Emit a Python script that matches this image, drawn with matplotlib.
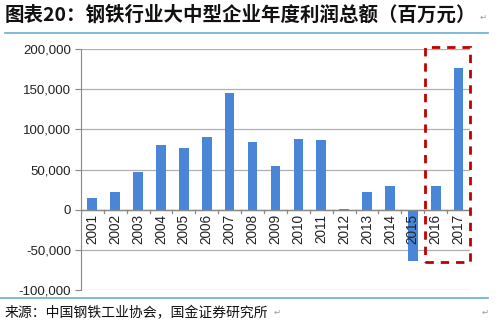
import matplotlib.pyplot as plt
from matplotlib.patches import Rectangle
from matplotlib.lines import Line2D

years = ["2001", "2002", "2003", "2004", "2005", "2006", "2007", "2008", "2009",
         "2010", "2011", "2012", "2013", "2014", "2015", "2016", "2017"]
profit = [15000, 22000, 47000, 80000, 77000, 90000, 145000, 84000, 55000,
          88000, 87000, 1000, 22000, 30000, -64000, 30000, 177000]
yticks = [-100000, -50000, 0, 50000, 100000, 150000, 200000]
title = "图表20：钢铁行业大中型企业年度利润总额（百万元）"
source = "来源：中国钢铁工业协会，国金证券研究所"

plt.rcParams['font.family'] = ['Liberation Sans', 'Noto Sans CJK SC', 'DejaVu Sans']

fig = plt.figure(figsize=(4.99, 3.23), dpi=100)
ax = fig.add_axes([0.162, 0.102, 0.78, 0.746])

x = list(range(len(years)))
ax.bar(x, profit, width=0.42, color="#4a86d8", zorder=3)

ax.set_xlim(-0.5, len(years) - 0.5)
ax.set_ylim(-100000, 200000)
ax.set_yticks(yticks)
ax.set_yticklabels([f"{v:,}" for v in yticks], fontsize=9.5, color="#222222")
ax.grid(axis="y", color="#b0b0b0", linewidth=0.9, zorder=0)

for s in ["top", "right", "bottom"]:
    ax.spines[s].set_visible(False)
ax.spines["left"].set_color("#888888")
ax.tick_params(axis="y", length=4, color="#888888", pad=3)

# x axis at zero with ticks between categories
ax.axhline(0, color="#888888", linewidth=1.0, zorder=4)
ax.set_xticks([])
for i in range(len(years) + 1):
    ax.plot([i - 0.5, i - 0.5], [0, -3500], color="#888888", linewidth=0.9, zorder=4)
for i, yr in enumerate(years):
    ax.text(i, -5000, yr, rotation=90, ha="center", va="top", fontsize=9.8,
            color="#222222", zorder=5)

# dashed highlight box
ax.add_patch(Rectangle((14.55, -64500), 1.95, 266500, fill=False, edgecolor="#c00000",
                       linestyle=(0, (3, 2.5)), linewidth=2.0, clip_on=False, zorder=6))

fig.text(0.01, 0.953, title, fontsize=14, fontweight="bold",
         family=['Noto Sans CJK SC', 'DejaVu Sans'], va="center", color="#111111")
fig.text(0.962, 0.945, "↵", fontsize=6, color="#999999", va="center")
fig.text(0.01, 0.03, source, fontsize=10, family=['Noto Sans CJK SC', 'DejaVu Sans'],
         va="center", color="#111111")
fig.text(0.548, 0.03, "↵", fontsize=6, color="#999999", va="center")
fig.text(0.965, 0.03, "↵", fontsize=6, color="#999999", va="center")
fig.add_artist(Line2D([0.01, 0.978], [0.898, 0.898], color="#6aaed0", linewidth=1.2))
fig.add_artist(Line2D([0.0, 0.978], [0.077, 0.077], color="#6aaed0", linewidth=1.2))

fig.savefig("out.png", dpi=100)
